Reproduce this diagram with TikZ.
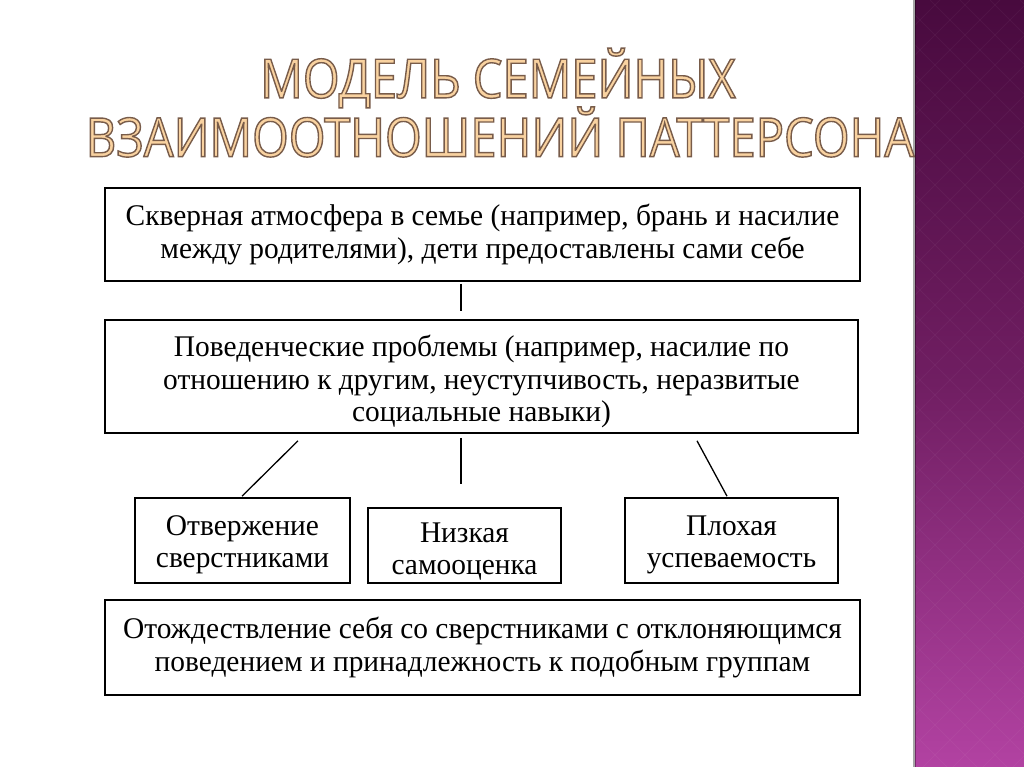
\documentclass[tikz,border=0pt]{standalone}
\usepackage{fontspec}
\setmainfont{Liberation Serif}[FakeStretch=0.98]
\newfontfamily\titlefont{Open Sans}[FakeStretch=0.873]
\usetikzlibrary{positioning}

\definecolor{titlefill}{RGB}{249,210,160}
\definecolor{bandtop}{RGB}{72,10,62}
\definecolor{bandmid}{RGB}{112,30,98}
\definecolor{bandbot}{RGB}{178,66,162}

% outlined title letters: fill with the text colour, stroke in brown
\newcommand\outlined[1]{\special{pdf:literal direct 2 Tr 1.4 w 0.47 0.36 0.29 RG}#1\special{pdf:literal direct 0 Tr}}

\begin{document}
\begin{tikzpicture}
[
    x=1pt, y=-1pt,
    box/.style={draw, line width=1.6pt, align=center, inner sep=0pt,
                font=\fontsize{30}{32.5}\selectfont},
    link/.style={line width=1.3pt},
    title/.style={text=titlefill, font=\titlefont\fontsize{54}{54}\selectfont},
]
\useasboundingbox (0,0) rectangle (1024,767);
\fill[white] (0,0) rectangle (1024,767);

% purple band on the right
\shade[top color=bandtop, bottom color=bandbot, middle color=bandmid]
    (915,0) rectangle (1024,767);
\begin{scope}
\clip (915,0) rectangle (1024,767);
\foreach \k in {0,...,30} {
    \draw[white, opacity=0.04, line width=1pt] (880+30*\k,0) -- ++(-800,800);
    \draw[white, opacity=0.04, line width=1pt] (120+30*\k,0) -- ++(800,800);
}
\end{scope}
\fill[black, opacity=0.35] (913,0) rectangle (916,767);

% title
\node[title] (title1) at (498,78) {\outlined{МОДЕЛЬ СЕМЕЙНЫХ}};
\node[title] (title2) at (500,132) {\outlined{ВЗАИМООТНОШЕНИЙ ПАТТЕРСОНА}};

% boxes
\node[box, minimum width=755pt, minimum height=93pt] (family) at (482.5,234.5)
    {Скверная атмосфера в семье (например, брань и насилие\\
     между родителями), дети предоставлены сами себе};
\node[box, minimum width=753pt, minimum height=113pt] (behave) at (481.5,376.5)
    {\rule{0pt}{31.5pt}Поведенческие проблемы (например, насилие по\\
     отношению к другим, неуступчивость, неразвитые\\
     социальные навыки)};
\node[box, minimum width=215pt, minimum height=85pt] (reject) at (242.5,540.5)
    {\rule{0pt}{28.5pt}Отвержение\\ сверстниками};
\node[box, minimum width=193pt, minimum height=75pt] (esteem) at (464.5,545.5)
    {\rule{0pt}{32pt}Низкая\\ самооценка};
\node[box, minimum width=213pt, minimum height=85pt] (school) at (731.5,540.5)
    {\rule{0pt}{28pt}Плохая\\ успеваемость};
\node[box, minimum width=755pt, minimum height=95pt] (deviant) at (482.5,647.5)
    {Отождествление себя со сверстниками с отклоняющимся\\
     поведением и принадлежность к подобным группам};

% connectors
\draw[link, shorten <=2pt, shorten >=8pt]
    ([xshift=-21.5pt]family.south) -- ([xshift=-20.5pt]behave.north);
\draw[link] ([shift={(-183.5pt,-7pt)}]behave.south) -- ([shift={(-0.5pt,1pt)}]reject.north);
\draw[link, shorten <=4pt, shorten >=23pt]
    ([xshift=-20.5pt]behave.south) -- ([xshift=-3.5pt]esteem.north);
\draw[link] ([shift={(215.5pt,-7pt)}]behave.south) -- ([shift={(-4.5pt,1pt)}]school.north);
\end{tikzpicture}
\end{document}
